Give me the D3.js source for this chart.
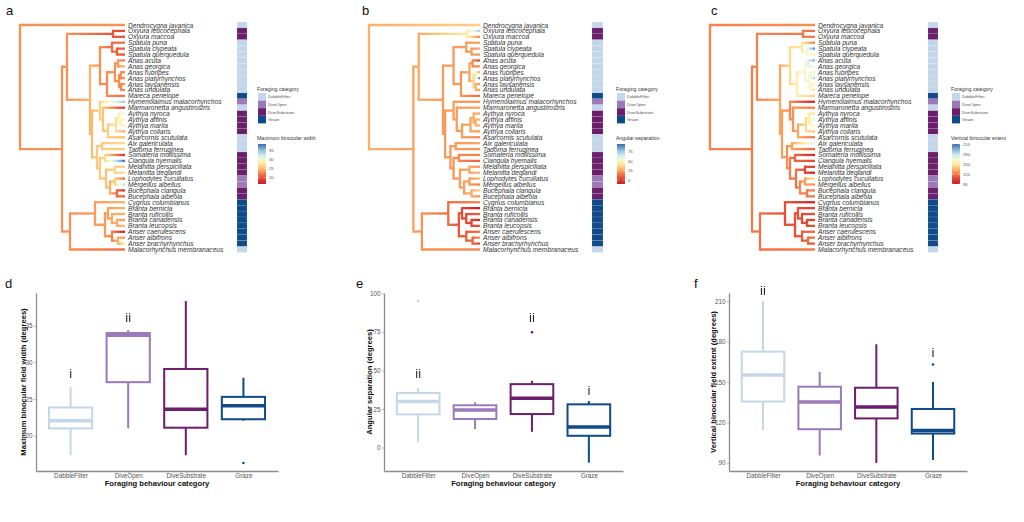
<!DOCTYPE html>
<html lang="en">
<head>
<meta charset="utf-8">
<title>Binocular field and foraging category in waterfowl</title>
<script src="https://cdn.jsdelivr.net/npm/d3@7"></script>
<style>
  body { margin: 0; background: #fff; }
  svg { font-family: "Liberation Sans", Arial, sans-serif; }
  .tip_label { font-size: 6.6px; font-style: italic; fill: #333; }
  .panel_label { font-size: 13px; fill: #111; }
  .leg_title { font-size: 5.2px; fill: #333; }
  .leg_text { font-size: 4.2px; fill: #555; }
  .tick text { font-size: 6.3px; fill: #555; }
  .axis_title { font-size: 7.6px; font-weight: bold; fill: #111; }
  .sig { font-size: 13px; fill: #2a2a2a; }
</style>
</head>
<body>
<div id="fig"></div>
<script>
// ---- data ----
var treeNewick = "(Dendrocygna_javanica:105,(((Oxyura_leucocephala:12,Oxyura_maccoa:12):46,(((Spatula_puna:13,(Spatula_clypeata:8,Spatula_querquedula:8):5):12,(((Anas_acuta:7,Anas_georgica:7):3,((Anas_rubripes:4,Anas_platyrhynchos:4):2,(Anas_laysanensis:4,Anas_undulata:4):2):4):8,Mareca_penelope:18):7):10,((Hymenolaimus_malacorhynchos:25,(Marmaronetta_angustirostris:22,(((Aythya_nyroca:6,(Aythya_affinis:4,Aythya_marila:4):2):3,Aythya_collaris:9):8,Asarcornis_scutulata:17):5):3):8,((Aix_galericulata:23,Tadorna_ferruginea:23):5,((Somateria_mollissima:20,Clangula_hyemalis:20):5,((Melanitta_perspicillata:10,Melanitta_deglandi:10):9,((Lophodytes_cucullatus:10,Mergellus_albellus:10):5,(Bucephala_clangula:8,Bucephala_albeola:8):7):4):6):3):5):2):23):5,((Cygnus_columbianus:30,((Branta_bernicla:17,(Branta_ruficollis:13,(Branta_canadensis:8,Branta_leucopsis:8):5):4):3,(Anser_caerulescens:13,(Anser_albifrons:7,Anser_brachyrhynchus:7):6):7):10):25,Malacorhynchus_membranaceus:55):8):42);";

var categories = ["DabbleFilter", "DiveOpen", "DiveSubstrate", "Graze"];
var catColors = ["#c3d6ea", "#9c79b8", "#6b1e6c", "#0f4a8a"];

var species = ["Dendrocygna javanica", "Oxyura leucocephala", "Oxyura maccoa", "Spatula puna",
  "Spatula clypeata", "Spatula querquedula", "Anas acuta", "Anas georgica", "Anas rubripes",
  "Anas platyrhynchos", "Anas laysanensis", "Anas undulata", "Mareca penelope",
  "Hymenolaimus malacorhynchos", "Marmaronetta angustirostris", "Aythya nyroca", "Aythya affinis",
  "Aythya marila", "Aythya collaris", "Asarcornis scutulata", "Aix galericulata",
  "Tadorna ferruginea", "Somateria mollissima", "Clangula hyemalis", "Melanitta perspicillata",
  "Melanitta deglandi", "Lophodytes cucullatus", "Mergellus albellus", "Bucephala clangula",
  "Bucephala albeola", "Cygnus columbianus", "Branta bernicla", "Branta ruficollis",
  "Branta canadensis", "Branta leucopsis", "Anser caerulescens", "Anser albifrons",
  "Anser brachyrhynchus", "Malacorhynchus membranaceus"];

var speciesCat = ["DabbleFilter", "DiveSubstrate", "DiveSubstrate", "DabbleFilter",
  "DabbleFilter", "DabbleFilter", "DabbleFilter", "DabbleFilter", "DabbleFilter",
  "DabbleFilter", "DabbleFilter", "DabbleFilter", "Graze",
  "DiveOpen", "DabbleFilter", "DiveSubstrate", "DiveSubstrate",
  "DiveSubstrate", "DiveSubstrate", "DabbleFilter", "DabbleFilter",
  "DabbleFilter", "DiveSubstrate", "DiveSubstrate", "DiveSubstrate",
  "DiveSubstrate", "DiveOpen", "DiveOpen", "DiveSubstrate",
  "DiveSubstrate", "Graze", "Graze", "Graze",
  "Graze", "Graze", "Graze", "Graze",
  "Graze", "DabbleFilter"];

// per-species trait values, same order as species
var maxWidth = [23, 19.5, 20, 21.5, 20.5, 19.5, 22, 25, 22.5, 23, 23, 22, 21.5, 34.5, 18.5,
  31, 30, 28, 23.5, 25, 26.5, 26, 18, 38.3, 26, 27, 21, 33.5, 17.5, 21,
  24.5, 24.5, 24.5, 23.5, 25, 16.5, 23, 27.5, 21.5];
var angSep = [36, 75, 18, 24, 26, 22, 3, 20, 24, 95, 22, 24, 13, 22, 26,
  26, 30, 28, 24, 20, 26, 22, 18, 10, 22, 30, 29, 16, 36, 22,
  18, -10, 10, -5, 8, 12, 22, 3, 20];
var vertExtent = [125, 118, 120, 118, 205, 150, 195, 165, 150, 190, 158, 145, 142, 92, 122,
  145, 172, 165, 138, 118, 170, 115, 95, 108, 105, 90, 150, 125, 120, 118,
  92, 105, 108, 104, 108, 115, 120, 110, 120];

// colour-bar limits for the three trees
var widthRange = [16.5, 38.3], sepRange = [-10, 95], extentRange = [90, 210];

// boxplot summaries per category: [lower whisker, q1, median, q3, upper whisker]
var widthBox = [[17.35, 21.0, 22.05, 23.85, 26.65], [21.0, 27.3, 33.7, 34.0, 34.4],
  [17.35, 21.1, 23.6, 29.1, 38.35], [22.05, 22.25, 24.1, 25.3, 27.9]];
var widthOut = [[], [], [], [16.3]];
var widthSig = [["i", 28.5], ["ii", 36.1], null, null];

var sepBox = [[3.3, 21.5, 29.8, 35.4, 38.5], [12.0, 18.5, 24.3, 27.4, 29.3],
  [10.2, 21.7, 32.0, 41.1, 43.3], [-9.8, 7.6, 13.3, 28.0, 30.2]];
var sepOut = [[95], [], [74.8], []];
var sepSig = [["ii", 47.8], null, ["ii", 84.6], ["i", 36.7]];

var extBox = [[114.25, 135.5, 155.25, 172.5, 210], [95.5, 115, 135.25, 146.5, 157.5],
  [90, 123, 131.5, 145.75, 178], [92.25, 111.75, 114, 130, 150]];
var extOut = [[], [], [], [163]];
var extSig = [["ii", 217.5], null, null, ["i", 171.75]];

// ---- helpers ----
function parseNewick(s) {
  var stack = [], node = {}, tokens = s.split(/\s*(;|\(|\)|,|:)\s*/);
  for (var i = 0; i < tokens.length; i++) {
    var t = tokens[i], prev = tokens[i - 1], c;
    if (t === "(") { c = {}; node.children = [c]; stack.push(node); node = c; }
    else if (t === ",") { c = {}; stack[stack.length - 1].children.push(c); node = c; }
    else if (t === ")") { node = stack.pop(); }
    else if (t === ":" || t === ";" || t === "") { }
    else if (prev === ":") { node.length = parseFloat(t); }
    else { node.name = t.replace(/_/g, " "); }
  }
  return node;
}

// brownian-motion ancestral estimates (down pass + up pass)
function reconstruct(root, valueOf) {
  root.eachAfter(function(n) {
    if (!n.children) { n.m = valueOf(n.data.name); n.v = 0; return; }
    var sw = 0, sm = 0;
    n.children.forEach(function(c) { var w = c.v + c.data.length; sw += 1 / w; sm += c.m / w; });
    n.m = sm / sw; n.v = 1 / sw;
  });
  root.eachBefore(function(n) {
    if (!n.parent) { n.val = n.m; n.um = null; return; }
    var p = n.parent, sw = 0, sm = 0;
    if (p.um !== null) { sw += 1 / p.uv; sm += p.um / p.uv; }
    p.children.forEach(function(s) {
      if (s !== n) { var w = s.v + s.data.length; sw += 1 / w; sm += s.m / w; }
    });
    n.um = sm / sw; n.uv = 1 / sw + n.data.length;
    if (!n.children) n.val = n.m;
    else { var a = 1 / n.v, b = 1 / n.uv; n.val = (n.m * a + n.um * b) / (a + b); }
  });
}

var W = 1024, H = 522;
var svg = d3.select("#fig").append("svg").attr("width", W).attr("height", H);
var defs = svg.append("defs");
// no-op filter: draws the letters off-screen so they get plain grey antialiasing
defs.append("filter").attr("id", "flat").append("feOffset").attr("dx", 0).attr("dy", 0);
var gradCount = 0;

function drawTree(opt) {
  var root = d3.hierarchy(parseNewick(treeNewick));
  root.eachBefore(function(n) { n.dep = n.parent ? n.parent.dep + n.data.length : 0; });
  var leaves = root.leaves();
  var x = d3.scaleLinear().domain([0, d3.max(leaves, function(d) { return d.dep; })]).range([opt.x0, opt.x1]);
  var y = d3.scaleLinear().domain([0, leaves.length - 1]).range([25, 249.5]);
  var dy = y(1) - y(0);
  leaves.forEach(function(l, i) { l.row = i; });
  root.eachAfter(function(n) {
    n.yy = n.children ? (n.children[0].yy + n.children[n.children.length - 1].yy) / 2 : y(n.row);
  });
  var ext = opt.range;
  // palette skewed so the lower-middle of the range stays orange
  var color = function(v) {
    var t = Math.max(0, Math.min(1, (v - ext[0]) / (ext[1] - ext[0])));
    return d3.interpolateRdYlBu(0.07 + 0.85 * Math.pow(t, 1.25));
  };
  reconstruct(root, function(name) { return opt.values[species.indexOf(name)]; });

  var g = svg.append("g");
  // vertical connectors
  g.selectAll("line.vert").data(root.descendants().filter(function(d) { return d.children; }))
    .enter().append("line")
    .attr("x1", function(d) { return x(d.dep); }).attr("x2", function(d) { return x(d.dep); })
    .attr("y1", function(d) { return d.children[0].yy; })
    .attr("y2", function(d) { return d.children[d.children.length - 1].yy; })
    .attr("stroke", function(d) { return color(d.val); })
    .attr("stroke-width", 2.3).attr("stroke-linecap", "square");
  // horizontal branches with colour gradient parent -> child
  root.descendants().slice(1).forEach(function(d) {
    var id = "grad" + (gradCount++);
    var x1 = x(d.parent.dep), x2 = x(d.dep);
    var lg = defs.append("linearGradient").attr("id", id)
      .attr("gradientUnits", "userSpaceOnUse")
      .attr("x1", x1).attr("x2", x2).attr("y1", 0).attr("y2", 0);
    d3.range(0, 1.01, 0.2).forEach(function(t) {
      lg.append("stop").attr("offset", t)
        .attr("stop-color", color(d.parent.val + (d.val - d.parent.val) * t));
    });
    g.append("line").attr("x1", x1).attr("x2", x2).attr("y1", d.yy).attr("y2", d.yy)
      .attr("stroke", "url(#" + id + ")").attr("stroke-width", 2.3);
  });
  // tip labels
  g.selectAll("text.tip").data(leaves).enter().append("text")
    .attr("class", "tip_label")
    .attr("x", opt.x1 + 3).attr("y", function(d) { return d.yy; })
    .attr("dominant-baseline", "central")
    .text(function(d) { return d.data.name; });
  // category tiles
  g.selectAll("rect.tile").data(leaves).enter().append("rect")
    .attr("x", opt.tx).attr("width", opt.tw)
    .attr("y", function(d) { return d.yy - dy / 2; }).attr("height", dy)
    .attr("fill", function(d) {
      return catColors[categories.indexOf(speciesCat[species.indexOf(d.data.name)])];
    })
    .attr("stroke", "#fff").attr("stroke-opacity", 0.35).attr("stroke-width", 0.3);

  // legends
  var lx = opt.lx;
  g.append("text").attr("class", "leg_title").attr("x", lx).attr("y", 91).text("Foraging category");
  categories.forEach(function(c, i) {
    g.append("rect").attr("x", lx + 1).attr("y", 93 + i * 7.6).attr("width", 8).attr("height", 7.6)
      .attr("fill", catColors[i]);
    g.append("text").attr("class", "leg_text").attr("x", lx + 11).attr("y", 96.8 + i * 7.6)
      .attr("dominant-baseline", "central").text(c);
  });
  g.append("text").attr("class", "leg_title").attr("x", lx).attr("y", 140).text(opt.legendTitle);
  var barTop = 144, barBot = 184;
  var cid = "cbar" + opt.key;
  var cg = defs.append("linearGradient").attr("id", cid)
    .attr("x1", 0).attr("x2", 0).attr("y1", 1).attr("y2", 0);
  d3.range(0, 1.001, 0.1).forEach(function(t) {
    cg.append("stop").attr("offset", t).attr("stop-color", color(ext[0] + t * (ext[1] - ext[0])));
  });
  g.append("rect").attr("x", lx + 1).attr("y", barTop).attr("width", 8).attr("height", barBot - barTop)
    .attr("fill", "url(#" + cid + ")");
  var ly = d3.scaleLinear().domain(ext).range([barBot, barTop]);
  opt.legendTicks.forEach(function(t) {
    g.append("line").attr("x1", lx + 1).attr("x2", lx + 2.6).attr("y1", ly(t)).attr("y2", ly(t))
      .attr("stroke", "#fff").attr("stroke-width", 0.5);
    g.append("line").attr("x1", lx + 7.4).attr("x2", lx + 9).attr("y1", ly(t)).attr("y2", ly(t))
      .attr("stroke", "#fff").attr("stroke-width", 0.5);
    g.append("text").attr("class", "leg_text").attr("x", lx + 12).attr("y", ly(t))
      .attr("dominant-baseline", "central").text(t);
  });
}

function drawBox(opt) {
  var x = d3.scalePoint().domain(categories).range([opt.x0, opt.x1]).padding(0.6);
  var y = d3.scaleLinear().domain(opt.domain).range([471, 293]);
  var bw = x.step() * 0.75;
  var g = svg.append("g");

  var ay = g.append("g").attr("transform", "translate(" + opt.x0 + ",0)")
    .call(d3.axisLeft(y).tickValues(opt.ticks).tickSize(2).tickSizeOuter(0).tickPadding(1.5));
  var ax = g.append("g").attr("transform", "translate(0,471)")
    .call(d3.axisBottom(x).tickSize(2).tickSizeOuter(0).tickPadding(1));
  [ay, ax].forEach(function(a) {
    a.select(".domain").attr("stroke", "#8c8c8c").attr("stroke-width", 1.3);
    a.selectAll(".tick line").attr("stroke", "#8c8c8c").attr("stroke-width", 0.6);
    a.selectAll(".tick text").attr("font-family", null).attr("font-size", null);
  });

  categories.forEach(function(c, i) {
    var s = opt.stats[i], cx = x(c), col = catColors[i];
    g.append("line").attr("x1", cx).attr("x2", cx).attr("y1", y(s[0])).attr("y2", y(s[4]))
      .attr("stroke", col).attr("stroke-width", 2);
    g.append("rect").attr("x", cx - bw / 2).attr("width", bw)
      .attr("y", y(s[3])).attr("height", y(s[1]) - y(s[3]))
      .attr("fill", "#fff").attr("stroke", col).attr("stroke-width", 2);
    g.append("line").attr("x1", cx - bw / 2).attr("x2", cx + bw / 2)
      .attr("y1", y(s[2])).attr("y2", y(s[2]))
      .attr("stroke", col).attr("stroke-width", 3.5);
    opt.outliers[i].forEach(function(o) {
      g.append("circle").attr("cx", cx).attr("cy", y(o)).attr("r", 1.3).attr("fill", col);
    });
    if (opt.sig[i]) {
      g.append("text").attr("class", "sig").attr("x", cx).attr("y", y(opt.sig[i][1]))
        .attr("filter", "url(#flat)")
        .attr("text-anchor", "middle").attr("dominant-baseline", "central").text(opt.sig[i][0]);
    }
  });

  g.append("text").attr("class", "axis_title")
    .attr("transform", "translate(" + opt.titleX + ",382) rotate(-90)")
    .attr("text-anchor", "middle").attr("dominant-baseline", "central").text(opt.yTitle);
  g.append("text").attr("class", "axis_title")
    .attr("x", (opt.x0 + opt.x1) / 2).attr("y", 486)
    .attr("text-anchor", "middle").text("Foraging behaviour category");
}

drawTree({key: "a", x0: 20, x1: 125, tx: 237, tw: 10, lx: 257, values: maxWidth, range: widthRange,
  legendTitle: "Maximum binocular width", legendTicks: [20, 25, 30, 35]});
drawTree({key: "b", x0: 369, x1: 480, tx: 592, tw: 11, lx: 616, values: angSep, range: sepRange,
  legendTitle: "Angular separation", legendTicks: [0, 25, 50, 75]});
drawTree({key: "c", x0: 710, x1: 815, tx: 928, tw: 10, lx: 951, values: vertExtent, range: extentRange,
  legendTitle: "Vertical binocular extent", legendTicks: [90, 120, 150, 180, 210]});

drawBox({x0: 36, x1: 278, domain: [15.2, 39.45], ticks: [20, 25, 30, 35],
  stats: widthBox, outliers: widthOut, sig: widthSig, titleX: 23,
  yTitle: "Maximum binocular field width (degrees)"});
drawBox({x0: 384, x1: 623, domain: [-15.25, 100.25], ticks: [0, 25, 50, 75, 100],
  stats: sepBox, outliers: sepOut, sig: sepSig, titleX: 369,
  yTitle: "Angular separation (degrees)"});
drawBox({x0: 729, x1: 967, domain: [84, 216], ticks: [90, 120, 150, 180, 210],
  stats: extBox, outliers: extOut, sig: extSig, titleX: 713,
  yTitle: "Vertical binocular field extent (degrees)"});

// panel letters
var panelLabels = ["a", "b", "c", "d", "e", "f"];
var labelPos = [[6, 15], [362, 15], [711, 15], [5, 288], [356, 288], [694, 288]];
svg.selectAll("text.panel").data(panelLabels).enter().append("text")
  .attr("class", "panel_label")
  .attr("x", function(d, i) { return labelPos[i][0]; })
  .attr("y", function(d, i) { return labelPos[i][1]; })
  .text(function(d) { return d; });
</script>
</body>
</html>
